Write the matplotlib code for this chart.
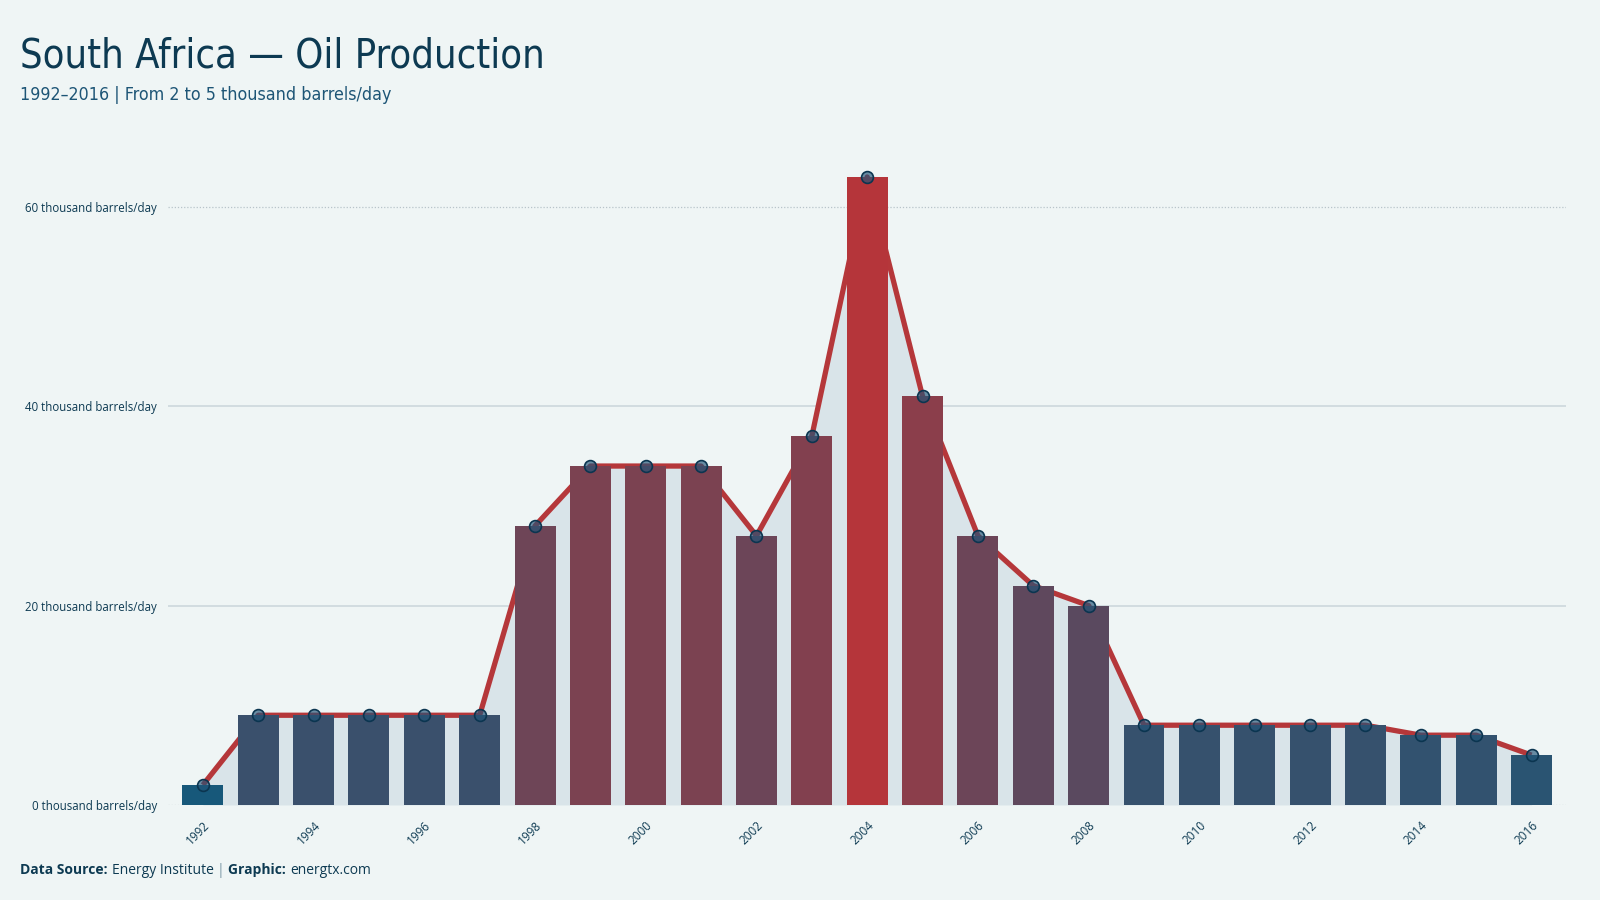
import numpy as np
import matplotlib.pyplot as plt
from matplotlib.colors import LinearSegmentedColormap
from matplotlib import font_manager

# ── Data ────────────────────────────────────────────────────────────────────
years = list(range(1992, 2017))
production = [2, 9, 9, 9, 9, 9, 28, 34, 34, 34, 27, 37, 63, 41, 27, 22, 20,
              8, 8, 8, 8, 8, 7, 7, 5]
y_ticks = [0, 20, 40, 60]
x_ticks = list(range(1992, 2017, 2))

# ── Theme ───────────────────────────────────────────────────────────────────
BG = "#eff5f5"
NAVY = "#0d3a52"
SUB = "#1d5576"
RED = "#b5373a"
AREA = "#d9e4e9"
GRID = "#cdd7dc"

# pick a condensed face for the titles if one is installed
cond = [f for f in font_manager.fontManager.ttflist
        if "condensed" in f.fname.lower() and "bold" not in f.fname.lower()
        and "oblique" not in f.fname.lower() and "italic" not in f.fname.lower()]
if cond:
    cond.sort(key=lambda f: ("dejavusans" not in f.fname.lower().replace("-", ""), f.fname))
    TITLE_FP = dict(fname=cond[0].fname)
else:
    TITLE_FP = dict(family="DejaVu Sans", stretch="condensed")
names = {f.name for f in font_manager.fontManager.ttflist}
BODY = "Open Sans" if "Open Sans" in names else "DejaVu Sans"

cmap = LinearSegmentedColormap.from_list("br", ["#17587a", "#b5353a"])
vals = np.array(production, dtype=float)
t = ((vals - vals.min()) / (vals.max() - vals.min())) ** 0.7
bar_colors = cmap(t)

fig = plt.figure(figsize=(16, 9), dpi=100)
fig.patch.set_facecolor(BG)
ax = fig.add_axes([0.105, 0.1056, 0.874, 0.731])
ax.set_facecolor(BG)

ax.fill_between(years, production, 0, color=AREA, zorder=1, lw=0)
ax.plot(years, production, color=RED, lw=3.8, zorder=2, solid_capstyle="butt")
ax.bar(years, production, width=0.74, color=bar_colors, zorder=3)
ax.plot(years, production, ls="none", marker="o", ms=8.5,
        markerfacecolor=(0.12, 0.33, 0.47, 0.65), markeredgecolor="#0b3550",
        markeredgewidth=1.2, zorder=4)

for v in y_ticks:
    if v in (0, 60):
        ax.axhline(v, color="#b8c4ca", lw=0.9, ls=(0, (1, 1.5)), zorder=0.5)
    else:
        ax.axhline(v, color=GRID, lw=1.2, zorder=0.5)

ax.set_xlim(1991.37, 2016.63)
ax.set_ylim(0, 66)
ax.set_yticks(y_ticks)
ax.set_yticklabels([f"{v} thousand barrels/day" for v in y_ticks],
                   fontsize=8.3, color=NAVY, family=BODY)
ax.set_xticks(x_ticks)
ax.set_xticklabels([str(x) for x in x_ticks], rotation=45, ha="right",
                   rotation_mode="anchor", fontsize=8.5, color=NAVY, family=BODY)
ax.tick_params(length=0, pad=8)
ax.tick_params(axis="x", pad=10)
for sp in ax.spines.values():
    sp.set_visible(False)

# ── Titles & footer ─────────────────────────────────────────────────────────
title_fp = font_manager.FontProperties(size=28.5, **TITLE_FP)
sub_fp = font_manager.FontProperties(size=12.8, **TITLE_FP)
fig.text(0.0128, 0.925, "South Africa \u2014 Oil Production",
         fontproperties=title_fp, color=NAVY, va="baseline")
fig.text(0.0128, 0.889, "1992\u20132016 | From 2 to 5 thousand barrels/day",
         fontproperties=sub_fp, color=SUB, va="baseline")

parts = [("Data Source: ", "bold", NAVY), ("Energy Institute ", "normal", NAVY),
         ("| ", "normal", "#7f9aa8"), ("Graphic: ", "bold", NAVY),
         ("energtx.com", "normal", NAVY)]
renderer = fig.canvas.get_renderer()
x = 0.0128
for txt, wt, col in parts:
    tt = fig.text(x, 0.029, txt, fontsize=10, fontweight=wt, color=col,
                  family=BODY, va="baseline")
    bb = tt.get_window_extent(renderer=renderer)
    x += bb.width / fig.bbox.width

fig.savefig("out.png", dpi=100, facecolor=BG)
